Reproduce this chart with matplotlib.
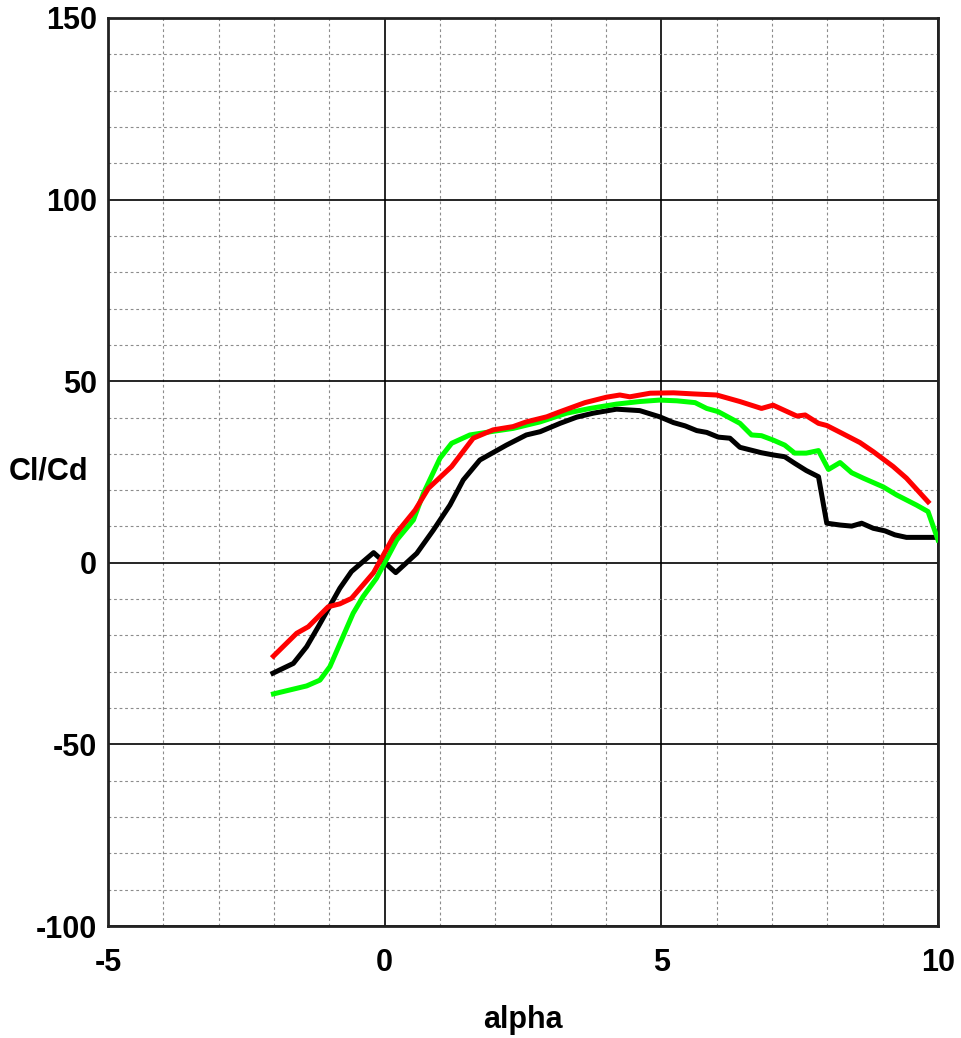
import numpy as np
import matplotlib
matplotlib.use('Agg')
import matplotlib.pyplot as plt
from matplotlib.ticker import MultipleLocator

plt.rcParams['font.family'] = ['Liberation Sans', 'DejaVu Sans']
plt.rcParams['font.weight'] = 'bold'
plt.rcParams['axes.unicode_minus'] = False

# black series
a_black = [-2.02, -1.65, -1.41, -1.2, -0.81, -0.6, -0.2, 0.2, 0.58, 0.88, 1.18, 1.42,
           1.72, 2.2, 2.56, 2.81, 3.17, 3.47, 3.77, 4.19, 4.61, 4.97, 5.22, 5.43, 5.64,
           5.82, 6.03, 6.24, 6.42, 6.81, 7.02, 7.23, 7.41, 7.62, 7.84, 7.99, 8.23, 8.44,
           8.62, 8.83, 9.04, 9.22, 9.43, 10.0]
cd_black = [-30.4, -27.7, -23.1, -17.6, -7.0, -2.4, 2.8, -2.7, 2.6, 9.0, 15.9, 22.8,
            28.3, 32.4, 35.2, 36.1, 38.4, 40.1, 41.2, 42.3, 41.9, 40.2, 38.6, 37.7, 36.4,
            35.9, 34.6, 34.3, 31.8, 30.3, 29.7, 29.2, 27.4, 25.4, 23.7, 10.9, 10.4, 10.1,
            10.9, 9.5, 8.8, 7.7, 7.0, 7.0]

# green series
a_green = [-2.01, -1.41, -1.17, -0.99, -0.57, -0.39, -0.15, 0.22, 0.52, 0.7, 1.0, 1.21,
           1.54, 1.96, 2.32, 2.81, 3.29, 3.71, 4.19, 4.61, 4.97, 5.28, 5.61, 5.82, 6.03,
           6.42, 6.63, 6.81, 7.02, 7.23, 7.41, 7.62, 7.84, 8.02, 8.23, 8.44, 8.65, 9.01,
           9.25, 9.61, 9.82, 10.0]
cd_green = [-36.1, -33.9, -32.3, -28.6, -13.9, -9.3, -4.3, 6.3, 11.8, 19.1, 28.8, 32.9,
            35.2, 36.2, 37.0, 38.8, 41.2, 42.5, 43.7, 44.4, 44.8, 44.6, 44.1, 42.5, 41.6,
            38.4, 35.2, 35.0, 33.8, 32.4, 30.2, 30.2, 30.9, 25.7, 27.6, 24.8, 23.3, 20.9,
            18.7, 15.9, 14.1, 6.3]

# red series
a_red = [-2.01, -1.59, -1.38, -1.02, -0.81, -0.6, -0.2, 0.16, 0.55, 0.79, 1.21, 1.6,
         1.96, 2.32, 2.56, 2.93, 3.17, 3.62, 4.01, 4.25, 4.43, 4.8, 5.22, 5.58, 6.0,
         6.42, 6.81, 7.02, 7.45, 7.6, 7.84, 7.99, 8.26, 8.59, 8.83, 9.19, 9.43, 9.82]
cd_red = [-25.7, -19.4, -17.6, -12.1, -11.3, -9.8, -2.7, 7.2, 14.5, 20.5, 26.5, 34.3,
          36.6, 37.5, 38.8, 40.2, 41.6, 44.1, 45.6, 46.2, 45.7, 46.7, 46.8, 46.5, 46.2,
          44.4, 42.5, 43.4, 40.4, 40.7, 38.4, 37.8, 35.7, 33.1, 30.6, 26.5, 23.3, 16.8]

xticks = [-5, 0, 5, 10]
yticks = [-100, -50, 0, 50, 100, 150]

fig = plt.figure(figsize=(9.62, 10.38), dpi=100)
ax = fig.add_axes([108/962, 112/1038, 830/962, 908/1038])

ax.plot(a_black, cd_black, color='#000000', linewidth=3.6, zorder=3)
ax.plot(a_green, cd_green, color='#00ff00', linewidth=3.6, zorder=4)
ax.plot(a_red, cd_red, color='#ff0000', linewidth=3.6, zorder=5)

ax.set_xlim(-5, 10)
ax.set_ylim(-100, 150)
ax.set_xticks(xticks)
ax.set_yticks(yticks)
ax.xaxis.set_minor_locator(MultipleLocator(1))
ax.yaxis.set_minor_locator(MultipleLocator(10))

ax.grid(visible=True, which='major', color='black', linestyle='-', linewidth=1.2, zorder=1)
ax.grid(visible=True, which='minor', color='#8c8c8c', linestyle=(0, (2.5, 2.5)), linewidth=0.8, zorder=1)
ax.set_axisbelow(True)

ax.tick_params(which='both', length=0)
ax.tick_params(axis='x', labelsize=22, pad=16)
ax.tick_params(axis='y', labelsize=22, pad=8)
for lab in ax.get_xticklabels() + ax.get_yticklabels():
    lab.set_fontweight('bold')

for s in ax.spines.values():
    s.set_linewidth(2.0)
    s.set_color('#222222')

ax.text(-0.024, 0.5, 'Cl/Cd', transform=ax.transAxes, ha='right', va='center',
        fontsize=22, fontweight='bold')
ax.text(0.5, -0.1035, 'alpha', transform=ax.transAxes, ha='center', va='center',
        fontsize=22, fontweight='bold')

plt.savefig('out.png', dpi=100)
